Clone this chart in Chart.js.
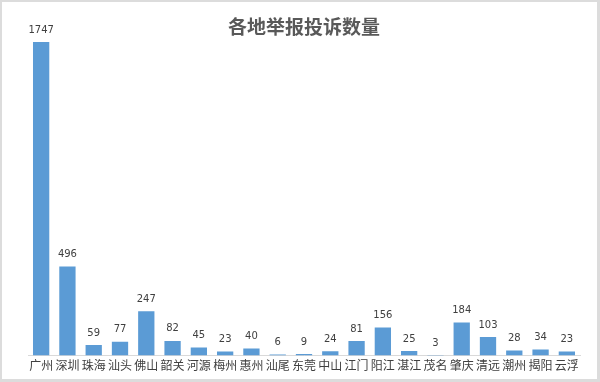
<!DOCTYPE html>
<html>
<head>
<meta charset="utf-8">
<script src="https://cdn.jsdelivr.net/npm/chart.js@4/dist/chart.umd.min.js"></script>
<style>
  html, body { margin: 0; padding: 0; background: #dcdcdc; }
  #wrap { position: absolute; left: 2px; top: 2px; width: 595px; height: 377px; background: #ffffff; }
  canvas { display: block; }
</style>
</head>
<body>
<div id="wrap"><canvas id="c" width="595" height="377"></canvas></div>
<script>
const cities = ['广州','深圳','珠海','汕头','佛山','韶关','河源','梅州','惠州','汕尾','东莞','中山','江门','阳江','湛江','茂名','肇庆','清远','潮州','揭阳','云浮'];
const counts = [1747, 496, 59, 77, 247, 82, 45, 23, 40, 6, 9, 24, 81, 156, 25, 3, 184, 103, 28, 34, 23];
const chartTitle = '各地举报投诉数量';

// Writes each bar's value just above it
const valueLabels = {
  id: 'valueLabels',
  afterDatasetsDraw(chart) {
    const ctx = chart.ctx;
    const meta = chart.getDatasetMeta(0);
    ctx.save();
    ctx.font = '10px "DejaVu Sans", sans-serif';
    ctx.fillStyle = '#404040';
    ctx.textAlign = 'center';
    ctx.textBaseline = 'bottom';
    meta.data.forEach((bar, i) => {
      ctx.fillText(String(counts[i]), bar.x, bar.y - 7);
    });
    ctx.restore();
  }
};

new Chart(document.getElementById('c'), {
  type: 'bar',
  data: {
    labels: cities,
    datasets: [{
      data: counts,
      backgroundColor: '#5b9bd5',
      borderWidth: 0,
      barPercentage: 0.62,
      categoryPercentage: 1.0
    }]
  },
  options: {
    responsive: false,
    animation: false,
    layout: { padding: { left: 26, right: 17, top: 0, bottom: 3 } },
    plugins: {
      legend: { display: false },
      tooltip: { enabled: false },
      title: {
        display: true,
        text: chartTitle,
        color: '#595959',
        font: { family: '"Noto Sans CJK SC", sans-serif', size: 19, weight: 'bold' },
        padding: { top: 13, bottom: 0 }
      }
    },
    scales: {
      x: {
        grid: { display: false, drawTicks: false },
        border: { display: true, color: '#d9d9d9', width: 1 },
        ticks: {
          color: '#404040',
          font: { family: '"Noto Sans CJK SC", sans-serif', size: 12 },
          maxRotation: 0, minRotation: 0, autoSkip: false, padding: 3
        }
      },
      y: {
        display: false,
        min: 0,
        max: 1770
      }
    }
  },
  plugins: [valueLabels]
});
</script>
</body>
</html>
